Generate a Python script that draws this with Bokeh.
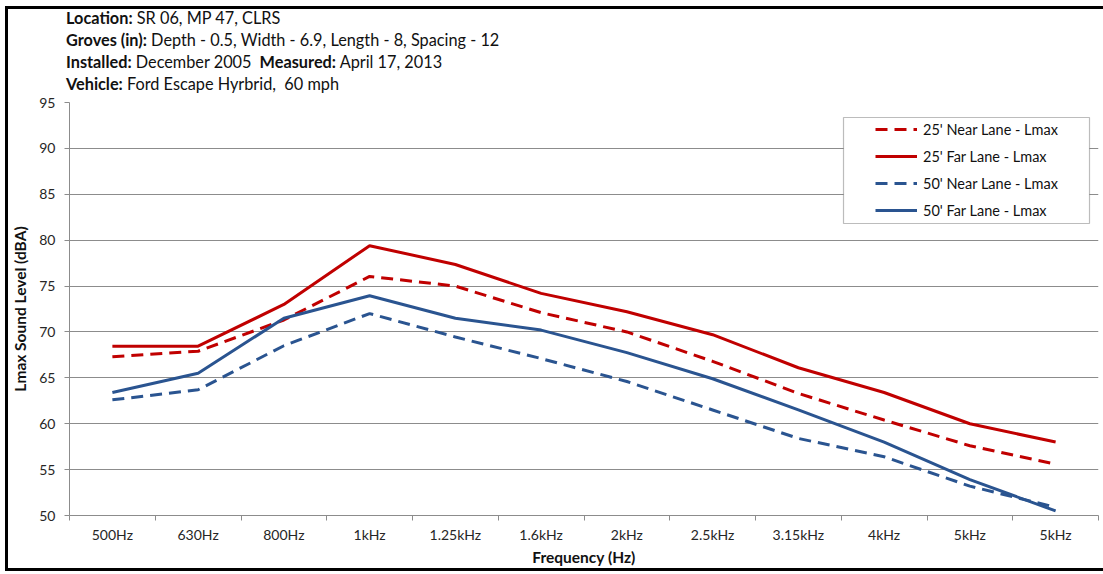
from bokeh.plotting import figure
from bokeh.models import (FixedTicker, Legend, LegendItem, BoxAnnotation, Range1d, Div)
from bokeh.layouts import column, row
from bokeh.embed import file_html
from bokeh.resources import INLINE

# ---- data ----
freq_labels = ["500Hz", "630Hz", "800Hz", "1kHz", "1.25kHz", "1.6kHz", "2kHz",
               "2.5kHz", "3.15kHz", "4kHz", "5kHz", "5kHz"]
near25 = [67.3, 67.9, 71.3, 76.05, 75.0, 72.1, 70.0, 66.8, 63.3, 60.4, 57.6, 55.6]
far25 = [68.45, 68.45, 73.0, 79.4, 77.35, 74.2, 72.2, 69.7, 66.1, 63.4, 60.0, 58.0]
near50 = [62.6, 63.7, 68.5, 72.0, 69.45, 67.1, 64.6, 61.5, 58.4, 56.4, 53.2, 50.9]
far50 = [63.4, 65.5, 71.5, 73.95, 71.5, 70.2, 67.75, 64.9, 61.5, 58.0, 53.9, 50.5]
series_names = ["25' Near Lane - Lmax", "25' Far Lane - Lmax",
                "50' Near Lane - Lmax", "50' Far Lane - Lmax"]
y_ticks = [50, 55, 60, 65, 70, 75, 80, 85, 90, 95]

header_lines = [
    [("Location:", True), ("SR 06, MP 47, CLRS", False)],
    [("Groves (in):", True), ("Depth - 0.5, Width - 6.9, Length - 8, Spacing - 12", False)],
    [("Installed:", True), ("December 2005", False), ("&nbsp;Measured:", True), ("April 17, 2013", False)],
    [("Vehicle:", True), ("Ford Escape Hyrbrid,&nbsp; 60 mph", False)],
]

FONT = "Lato"
RED = "#C00000"
BLUE = "#2A5490"
GRID = "#8C8C8C"

# layout geometry (page px)
BW = 3                      # outer border thickness
OFF_L, OFF_T = 5, 6
IN_L = OFF_L + BW           # 8
IN_T = OFF_T + BW           # 9
HEADER_H = 86
FIG_W = 1095
FIG_H = 473
FRAME_L, FRAME_R, FRAME_T, FRAME_B = 67, 1098, 102, 516

mbl = FRAME_L - IN_L
mbr = IN_L + FIG_W - FRAME_R
mbt = FRAME_T - IN_T - HEADER_H
mbb = IN_T + HEADER_H + FIG_H - FRAME_B

spans = []
for line in header_lines:
    s = ""
    for txt, bold in line:
        s += (f"<b>{txt}</b> " if bold else f"{txt} ")
    spans.append(s)
html = ('<div style="padding-left:%dpx; margin-top:-2.5px; font-family:Lato; font-size:16.3px; '
        'line-height:22px; color:#111; white-space:nowrap;">%s</div>'
        % (66 - IN_L, "<br>".join(spans)))
header = Div(text=html, width=FIG_W, height=HEADER_H, margin=0,
             styles={"overflow": "hidden"})

p = figure(width=FIG_W, height=FIG_H, output_backend="svg", toolbar_location=None,
           x_range=Range1d(-0.5, len(freq_labels) - 0.5), y_range=Range1d(50, 95),
           min_border_left=mbl, min_border_right=mbr, min_border_top=mbt,
           min_border_bottom=mbb, margin=0)
p.outline_line_color = None
p.background_fill_color = "white"
p.border_fill_color = None

x = list(range(len(freq_labels)))

# axes
xa = p.xaxis[0]
xa.ticker = FixedTicker(ticks=x, minor_ticks=[i - 0.5 for i in range(len(freq_labels) + 1)])
xa.major_label_overrides = {i: lbl for i, lbl in enumerate(freq_labels)}
xa.major_tick_line_color = None
xa.major_tick_out = 0
xa.major_tick_in = 0
xa.minor_tick_line_color = GRID
xa.minor_tick_out = 5
xa.minor_tick_in = 0
xa.major_label_standoff = 5
xa.axis_line_color = GRID
xa.major_label_text_font = FONT
xa.major_label_text_font_size = "14px"
xa.major_label_text_color = "#262626"
xa.axis_label = "Frequency (Hz)"
xa.axis_label_text_font = FONT
xa.axis_label_text_font_size = "15.5px"
xa.axis_label_text_font_style = "bold"
xa.axis_label_text_color = "#111111"
xa.axis_label_standoff = 2

ya = p.yaxis[0]
ya.ticker = FixedTicker(ticks=y_ticks)
ya.major_tick_out = 5
ya.major_tick_in = 0
ya.major_tick_line_color = GRID
ya.minor_tick_line_color = None
ya.axis_line_color = GRID
ya.major_label_standoff = 9
ya.major_label_text_font = FONT
ya.major_label_text_font_size = "14px"
ya.major_label_text_color = "#262626"
ya.axis_label = "Lmax Sound Level (dBA)"
ya.axis_label_text_font = FONT
ya.axis_label_text_font_size = "15.5px"
ya.axis_label_text_font_style = "bold"
ya.axis_label_text_color = "#111111"
ya.axis_label_standoff = 7

p.xgrid.grid_line_color = None
p.ygrid.grid_line_color = GRID
p.ygrid.grid_line_width = 1

# lines
r1 = p.line(x, near25, line_color=RED, line_width=3, line_dash="12 7")
r2 = p.line(x, far25, line_color=RED, line_width=3)
r3 = p.line(x, near50, line_color=BLUE, line_width=3, line_dash="12 7")
r4 = p.line(x, far50, line_color=BLUE, line_width=3)

# legend box (frame-relative screen units)
box = BoxAnnotation(left=841 - FRAME_L, right=1087 - FRAME_L,
                    top=FRAME_B - 118, bottom=FRAME_B - 224,
                    left_units="screen", right_units="screen", top_units="screen",
                    bottom_units="screen", fill_color="white", fill_alpha=1,
                    line_color="#222222", line_width=1.2)
p.add_layout(box)

legend = Legend(items=[LegendItem(label=n, renderers=[r]) for n, r in
                       zip(series_names, [r1, r2, r3, r4])],
                location=(873 - FRAME_L, FRAME_B - 221), padding=0, spacing=7,
                glyph_width=42, glyph_height=20, label_height=20, label_standoff=6,
                border_line_alpha=0, background_fill_alpha=0,
                label_text_font=FONT, label_text_font_size="14.5px",
                label_text_color="#111111")
p.add_layout(legend)

# outer border drawn as three black bars
bar_style = {"background-color": "black"}
top_bar = Div(text="", width=FIG_W, height=BW, margin=0, styles=bar_style)
bottom_bar = Div(text="", width=FIG_W, height=BW, margin=0, styles=bar_style)
left_bar = Div(text="", width=BW, height=HEADER_H + FIG_H + 2 * BW, margin=0, styles=bar_style)

inner = column(top_bar, header, p, bottom_bar, spacing=0, margin=0,
               styles={"overflow": "hidden"})
layout = row(left_bar, inner, margin=(OFF_T, 0, 0, OFF_L), spacing=0,
             styles={"vertical-align": "top", "overflow": "hidden"})

open("out.html", "w").write(file_html(layout, INLINE))
